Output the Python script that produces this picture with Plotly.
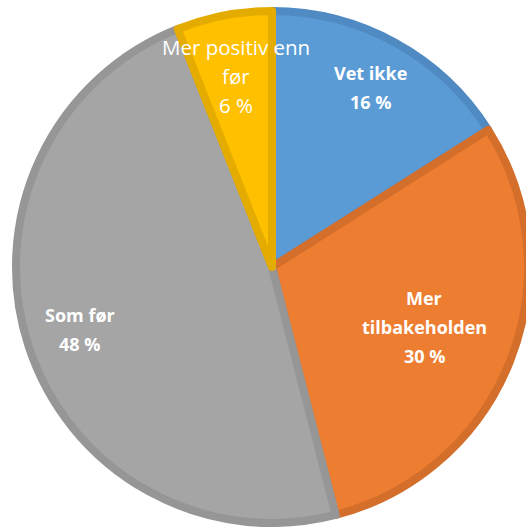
import math
import plotly.graph_objects as go

categories = ["Vet ikke", "Mer tilbakeholden", "Som før", "Mer positiv enn før"]
values = [16, 30, 48, 6]
label_lines = [["Vet ikke"], ["Mer", "tilbakeholden"], ["Som før"], ["Mer positiv enn", "før"]]

fill_colors = ["#5B9BD5", "#ED7D31", "#A5A5A5", "#FFC000"]
line_colors = ["#4F8AC2", "#D46E2B", "#969696", "#E5AC00"]
label_bold = [True, True, True, False]
label_size = [18, 18, 18, 20.5]
label_r = [0.80, 0.64, 0.79, 0.76]

W, H = 540, 527
cx_px, cy_px, rad_px = 272, 267, 256
dom_x = [(cx_px - rad_px) / W, (cx_px + rad_px) / W]
dom_y = [1 - (cy_px + rad_px) / H, 1 - (cy_px - rad_px) / H]

fig = go.Figure(go.Pie(
    labels=categories,
    values=values,
    sort=False,
    direction="clockwise",
    rotation=0,
    marker=dict(colors=fill_colors, line=dict(color=line_colors, width=8)),
    textinfo="none",
    hoverinfo="label+percent",
    showlegend=False,
    domain=dict(x=dom_x, y=dom_y),
))

# geometry of the pie in pixels (as plotly computes it)
cx = W * (dom_x[0] + dom_x[1]) / 2
cy_top = H * (1 - (dom_y[0] + dom_y[1]) / 2)
r = min(W * (dom_x[1] - dom_x[0]), H * (dom_y[1] - dom_y[0])) / 2

total = sum(values)
cum = 0
line_gap = 29
for i, v in enumerate(values):
    mid = (cum + v / 2) / total * 2 * math.pi
    cum += v
    px = cx + r * label_r[i] * math.sin(mid)
    py = cy_top - r * label_r[i] * math.cos(mid)
    lines = label_lines[i] + [f"{round(v / total * 100)} %"]
    n = len(lines)
    for j, t in enumerate(lines):
        off = (j - (n - 1) / 2) * line_gap
        txt = f"<b>{t}</b>" if label_bold[i] else t
        fig.add_annotation(
            x=px / W, y=1 - (py + off) / H, xref="paper", yref="paper",
            text=txt, showarrow=False,
            font=dict(family="Open Sans", size=label_size[i], color="white"),
            xanchor="center", yanchor="middle",
        )

fig.update_layout(
    width=W, height=H,
    margin=dict(l=0, r=0, t=0, b=0),
    paper_bgcolor="white",
    plot_bgcolor="white",
)

fig.write_html(
    "out.html",
    config={"displayModeBar": False},
    post_script=(
        "document.documentElement.style.overflow='hidden';"
        "document.body.style.overflow='hidden';"
        "document.body.style.margin='0';"
    ),
)
